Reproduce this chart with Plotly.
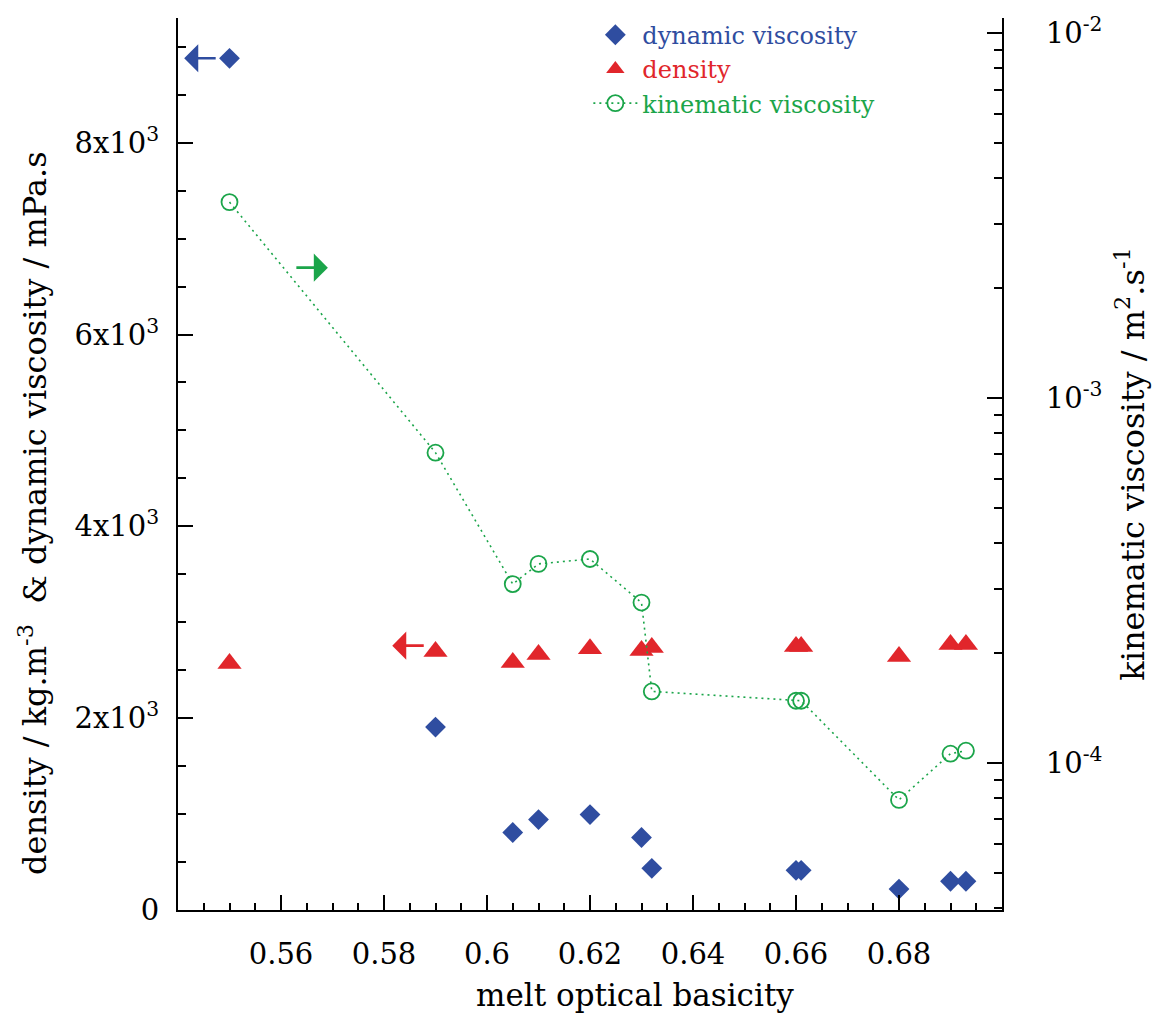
import plotly.graph_objects as go

# ---- data ----
basicity = [0.55, 0.59, 0.605, 0.61, 0.62, 0.63, 0.632, 0.66, 0.661, 0.68, 0.69, 0.693]
dyn_visc = [8880, 1907, 808, 943, 995, 756, 435, 414, 414, 218, 300, 300]          # mPa.s
density = [2570, 2694, 2580, 2663, 2725, 2705, 2736, 2746, 2746, 2642, 2767, 2767]  # kg/m3
kin_visc = [3.44e-3, 7.08e-4, 3.09e-4, 3.51e-4, 3.62e-4, 2.75e-4,
            1.57e-4, 1.48e-4, 1.48e-4, 7.92e-5, 1.06e-4, 1.08e-4]                   # m2/s

x_tickvals = [0.56, 0.58, 0.60, 0.62, 0.64, 0.66, 0.68]
x_ticktext = ["0.56", "0.58", "0.6", "0.62", "0.64", "0.66", "0.68"]
y_tickvals = [0, 2000, 4000, 6000, 8000]
y_ticktext = ["0", "2x10<sup>3</sup>", "4x10<sup>3</sup>", "6x10<sup>3</sup>", "8x10<sup>3</sup>"]
y2_tickvals = [1e-4, 1e-3, 1e-2]
y2_ticktext = ["10<sup>-4</sup>", "10<sup>-3</sup>", "10<sup>-2</sup>"]
y2_minor = [m * 10.0 ** e for e in (-5, -4, -3) for m in range(2, 10)]

BLUE = "#2F4DA0"
RED = "#E1262B"
GREEN = "#1BA54A"
FONT = "DejaVu Serif"

fig = go.Figure()
fig.add_trace(go.Scatter(
    x=basicity, y=dyn_visc, mode="markers", yaxis="y",
    name=f'<span style="color:{BLUE}">dynamic viscosity</span>',
    marker=dict(symbol="diamond", size=16, color=BLUE),
))
fig.add_trace(go.Scatter(
    x=basicity, y=density, mode="markers", yaxis="y",
    name=f'<span style="color:{RED}">density</span>',
    marker=dict(symbol="triangle-up", size=21, color=RED),
))
fig.add_trace(go.Scatter(
    x=basicity, y=kin_visc, mode="lines+markers", yaxis="y2",
    name=f'<span style="color:{GREEN}">kinematic viscosity</span>',
    line=dict(color=GREEN, width=1.6, dash="2px,4px"),
    marker=dict(symbol="circle-open", size=16, color=GREEN, line=dict(width=1.8, color=GREEN)),
))

axis_common = dict(
    showline=True, linecolor="black", linewidth=2, showgrid=False, zeroline=False,
    ticks="inside", tickcolor="black", tickwidth=2, ticklen=15, automargin=False,
    tickfont=dict(family=FONT, size=29, color="black"),
)

# the page body adds an 8px offset, so the figure is sized to fit the window
fig.update_layout(
    width=1152, height=1010,
    margin=dict(l=170, r=158, t=5, b=108),
    paper_bgcolor="white", plot_bgcolor="white",
    font=dict(family=FONT, size=29, color="black"),
    showlegend=True,
    legend=dict(x=0.498, y=1.006, xanchor="left", yanchor="top", itemwidth=44,
                font=dict(family=FONT, size=24), bgcolor="rgba(0,0,0,0)"),
    xaxis=dict(
        **axis_common, range=[0.54, 0.70], tickmode="array",
        tickvals=x_tickvals, ticktext=x_ticktext, ticklabelstandoff=17,
        minor=dict(dtick=0.005, tick0=0.54, ticklen=7, tickwidth=1.5, tickcolor="black", ticks="inside"),
    ),
    yaxis=dict(
        **axis_common, range=[0, 9300], tickmode="array",
        tickvals=y_tickvals, ticktext=y_ticktext, ticklabelstandoff=11,
        minor=dict(dtick=500, tick0=0, ticklen=8, tickwidth=1.5, tickcolor="black", ticks="inside"),
    ),
    yaxis2=dict(
        **axis_common, overlaying="y", side="right", anchor="x", type="log",
        range=[-4.403, -1.959], tickmode="array",
        tickvals=y2_tickvals, ticktext=y2_ticktext, ticklabelstandoff=36,
        minor=dict(tickmode="array", tickvals=y2_minor, ticklen=8, tickwidth=1.5,
                   tickcolor="black", ticks="inside"),
        title=dict(text="kinematic viscosity / m<sup>2</sup>.s<sup>-1</sup>",
                   font=dict(family=FONT, size=32), standoff=20),
    ),
)

# axis titles placed off-centre as in the reference
fig.add_annotation(
    text="density / kg.m<sup>-3</sup>&nbsp; & dynamic viscosity / mPa.s",
    xref="paper", yref="paper", x=-0.176, y=0.445, xanchor="center", yanchor="middle",
    textangle=-90, showarrow=False, font=dict(family=FONT, size=32, color="black"),
)
fig.add_annotation(
    text="melt optical basicity",
    xref="paper", yref="paper", x=0.5546, y=-0.0948, xanchor="center", yanchor="middle",
    showarrow=False, font=dict(family=FONT, size=31, color="black"),
)

arrow = dict(text="", showarrow=True, arrowhead=1, arrowwidth=2.6, arrowsize=1.8, standoff=0, ay=0)
fig.add_annotation(**arrow, x=0.5412, y=dyn_visc[0], xref="x", yref="y", ax=33, arrowcolor=BLUE)
fig.add_annotation(**arrow, x=0.5816, y=2756, xref="x", yref="y", ax=33, arrowcolor=RED)
fig.add_annotation(**arrow, x=0.5691, y=-2.643, xref="x", yref="y2", ax=-33, arrowcolor=GREEN)

fig.write_html("out.html")
